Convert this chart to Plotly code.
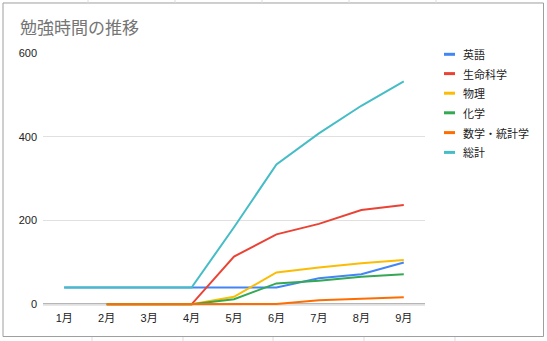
import plotly.graph_objects as go

months = ["1月", "2月", "3月", "4月", "5月", "6月", "7月", "8月", "9月"]
series_names = ["英語", "生命科学", "物理", "化学", "数学・統計学", "総計"]
eigo = [40, 40, 40, 40, 40, 40, 62, 72, 100]
seimei = [None, 0, 0, 0, 114, 167, 192, 225, 237]
butsuri = [None, 0, 0, 0, 18, 76, 88, 98, 106]
kagaku = [None, 0, 0, 0, 12, 50, 56, 66, 72]
suugaku = [None, 0, 0, 0, 0, 1, 10, 13, 17]
soukei = [40, 40, 40, 40, 184, 334, 408, 474, 532]
colors = ["#4285F4", "#EA4335", "#FBBC04", "#34A853", "#FF6D01", "#46BDC6"]
y_ticks = [0, 200, 400, 600]

W, H = 547, 341
Y_MIN, Y_MAX = -4, 600
L, R, T, Y0PX = 43, 425, 53, 304.3
SCALE = (Y0PX - T) / Y_MAX
B = Y0PX - Y_MIN * SCALE

def px(x):
    return (x - L) / (R - L)

def py(y):
    return (B - y) / (B - T)

FONT = "Liberation Sans, Arial, Noto Sans CJK JP, sans-serif"

fig = go.Figure()
for name, vals, c in zip(series_names, [eigo, seimei, butsuri, kagaku, suugaku, soukei], colors):
    fig.add_trace(go.Scatter(x=months, y=vals, name=name, mode="lines",
                             line=dict(color=c, width=2), connectgaps=False,
                             showlegend=False))

shapes = []
annotations = []
# baseline at 0
shapes.append(dict(type="line", xref="paper", yref="y", x0=0, x1=1, y0=0, y1=0,
                   line=dict(color="#9e9e9e", width=2), layer="below"))
# chart frame
shapes.append(dict(type="rect", xref="paper", yref="paper",
                   x0=px(3), x1=px(543.5), y0=py(336.5), y1=py(3),
                   line=dict(color="#9e9e9e", width=1), fillcolor="rgba(0,0,0,0)", layer="below"))
# spreadsheet cell lines outside frame
for x in [88, 175, 262, 349, 436]:
    shapes.append(dict(type="line", xref="paper", yref="paper", x0=px(x), x1=px(x), y0=py(0), y1=py(3),
                       line=dict(color="#dadce0", width=1)))
for x in [92, 183, 273, 364, 455]:
    shapes.append(dict(type="line", xref="paper", yref="paper", x0=px(x), x1=px(x), y0=py(337), y1=py(341),
                       line=dict(color="#dadce0", width=1)))

# legend
leg_y = [54.3, 73.6, 93.2, 112.8, 132.6, 152.4]
for name, c, yy in zip(series_names, colors, leg_y):
    shapes.append(dict(type="line", xref="paper", yref="paper", x0=px(444), x1=px(455),
                       y0=py(yy), y1=py(yy), line=dict(color=c, width=3)))
    annotations.append(dict(xref="paper", yref="paper", x=px(461), y=py(yy), text=name,
                            showarrow=False, xanchor="left", yanchor="middle",
                            font=dict(size=11, color="#222222", family="Noto Sans CJK JP, sans-serif")))

# title
annotations.append(dict(xref="paper", yref="paper", x=px(18), y=py(27), text="勉強時間の推移",
                        showarrow=False, xanchor="left", yanchor="middle",
                        font=dict(size=17, color="#757575", family="Noto Sans CJK JP, sans-serif")))

fig.update_layout(
    width=W, height=H,
    margin=dict(l=L, r=W - R, t=T, b=H - B, pad=0),
    paper_bgcolor="white", plot_bgcolor="white",
    font=dict(family=FONT, size=11, color="#222222"),
    shapes=shapes, annotations=annotations,
    showlegend=False,
    xaxis=dict(type="category", categoryorder="array", categoryarray=months,
               range=[-0.5, 8.5], showgrid=False, showline=False,
               ticks="", ticklabelstandoff=4, tickfont=dict(size=11, color="#222222",
               family="Liberation Sans, Noto Sans CJK JP, sans-serif"), zeroline=False, fixedrange=True),
    yaxis=dict(range=[Y_MIN, Y_MAX], tickvals=y_ticks, ticktext=[str(v) for v in y_ticks],
               showgrid=True, gridcolor="#e0e0e0", gridwidth=1, zeroline=False,
               showline=False, ticks="", ticklabelstandoff=5,
               tickfont=dict(size=11, color="#222222"), fixedrange=True),
)

fig.write_html("out.html")
